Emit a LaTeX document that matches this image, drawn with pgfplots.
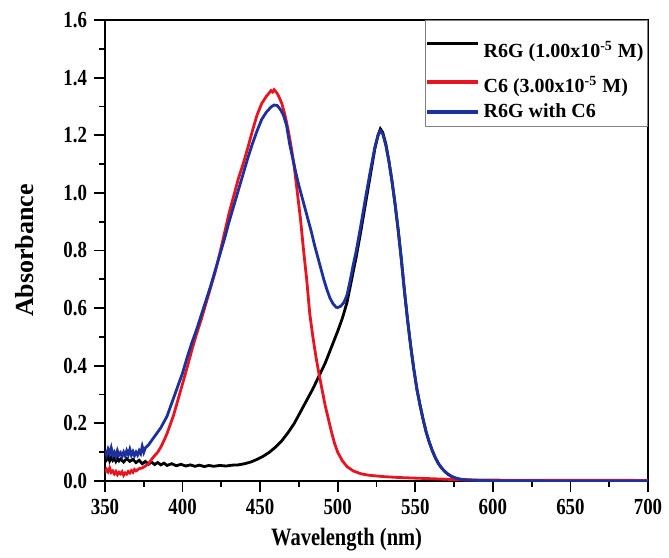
\documentclass[border=0pt]{standalone}
\usepackage{fontspec}
\setmainfont{Liberation Serif}
\newfontfamily\condfont{Liberation Serif}[FakeStretch=0.82]
\usepackage{graphicx}
\usepackage{pgfplots}
\pgfplotsset{compat=1.18}
\definecolor{cred}{RGB}{232,20,32}
\definecolor{cblue}{RGB}{28,48,158}
\pgfplotsset{lastrowimg/.style={legend image code/.code={\path[draw=none,fill=none] (0pt,-4.5pt) rectangle (25.5pt,0.5pt); \draw[##1, line width=1.7pt] (0pt,0pt) -- (25.5pt,0pt);}}}
\begin{document}
\begin{tikzpicture}
\begin{axis}[
  scale only axis, width=271.5pt, height=230.5pt,
  xmin=350, xmax=700, ymin=0, ymax=1.6,
  xtick={350,400,450,500,550,600,650,700},
  ytick={0,0.2,0.4,0.6,0.8,1.0,1.2,1.4,1.6},
  minor x tick num=1, minor y tick num=1,
  tick align=outside, xtick pos=left, ytick pos=left,
  major tick length=5.5pt, minor tick length=3pt,
  every tick/.style={black, line width=0.9pt},
  axis line style={line width=1.3pt},
  /pgf/number format/assume math mode=true,
  y tick label style={/pgf/number format/.cd, fixed, fixed zerofill, precision=1},
  x tick label style={/pgf/number format/.cd, fixed, precision=0},
  ticklabel style={font=\condfont\bfseries\fontsize{11.5}{13}\selectfont},
  xlabel={\condfont\bfseries\fontsize{12.5}{14}\selectfont Wavelength (nm)},
  ylabel={\bfseries\fontsize{13}{15}\selectfont Absorbance},
  xlabel style={at={(axis description cs:0.445,0)}, anchor=center, yshift=-29.5pt},
  ylabel style={at={(axis description cs:-0.1473,0.5)}, anchor=center},
  legend style={at={(1,1)}, anchor=north east, draw=gray, line width=0.5pt,
    font=\bfseries\fontsize{10}{11}\selectfont, inner xsep=0pt, inner ysep=1pt,
    row sep=0pt, column sep=0pt, cells={anchor=west, inner sep=0pt}},
  legend image code/.code={\draw[#1, line width=1.7pt] (0pt,0pt) -- (25.5pt,0pt);},
  every axis plot/.append style={line width=1.4pt},
]
% R6G
\addplot[black] coordinates {
(350,0.085)(351,0.075)(352,0.088)(353,0.070)(354,0.082)(355,0.072)(356,0.080)(357,0.068)(358,0.078)(359,0.070)
(360,0.076)(362,0.066)(364,0.078)(366,0.068)(368,0.075)(370,0.064)(372,0.072)(374,0.060)(376,0.068)(378,0.058)
(380,0.066)(382,0.057)(384,0.064)(386,0.056)(388,0.062)(390,0.054)(393,0.060)(396,0.053)(399,0.058)(402,0.052)
(405,0.056)(408,0.051)(411,0.055)(414,0.050)(417,0.054)(420,0.051)(424,0.054)(428,0.052)(432,0.055)(436,0.056)
(440,0.060)(444,0.066)(448,0.075)(452,0.086)(456,0.100)(460,0.118)(464,0.140)(468,0.168)(472,0.200)(476,0.240)
(480,0.280)(484,0.320)(488,0.365)(492,0.410)(496,0.465)(500,0.520)(503,0.565)(506,0.620)(509,0.700)(512,0.780)
(515,0.870)(518,0.965)(521,1.060)(524,1.155)(526,1.200)(527.5,1.222)(529,1.210)(531,1.170)(533,1.110)(535,1.040)
(537,0.960)(539,0.870)(541,0.770)(543,0.660)(545,0.560)(547,0.470)(549,0.390)(551,0.320)(553,0.265)(555,0.215)
(557,0.170)(559,0.135)(561,0.105)(563,0.080)(565,0.060)(567,0.045)(569,0.033)(571,0.024)(573,0.017)(575,0.012)
(578,0.007)(582,0.004)(590,0.002)(600,0.001)(650,0.000)(700,0.000)
};
\addlegendentry{\rule[-9.5pt]{0pt}{25pt}R6G (1.00x10\textsuperscript{-5} M)}
% C6
\addplot[cred] coordinates {
(350,0.030)(351,0.040)(352,0.032)(353,0.045)(354,0.030)(355,0.035)(356,0.025)(357,0.033)(358,0.022)(359,0.030)
(360,0.025)(361,0.032)(362,0.020)(363,0.028)(364,0.024)(365,0.033)(366,0.028)(367,0.036)(368,0.030)(369,0.040)
(370,0.035)(372,0.043)(374,0.045)(376,0.052)(378,0.060)(380,0.075)(382,0.088)(384,0.100)(386,0.118)(388,0.140)
(390,0.165)(392,0.195)(394,0.225)(396,0.262)(398,0.300)(400,0.338)(403,0.395)(406,0.455)(409,0.510)(412,0.560)
(415,0.615)(418,0.670)(421,0.725)(424,0.790)(427,0.860)(430,0.930)(433,0.990)(436,1.050)(439,1.100)(442,1.155)
(445,1.215)(448,1.270)(451,1.310)(454,1.335)(456,1.348)(457,1.355)(458,1.350)(459,1.358)(460,1.352)(461,1.345)
(462,1.335)(464,1.310)(466,1.270)(468,1.220)(470,1.160)(472,1.090)(474,1.000)(476,0.910)(478,0.800)(480,0.700)
(482,0.580)(484,0.500)(486,0.430)(488,0.370)(490,0.315)(492,0.260)(494,0.215)(496,0.170)(498,0.130)(500,0.100)
(503,0.070)(506,0.050)(510,0.035)(515,0.025)(520,0.020)(530,0.015)(540,0.012)(550,0.010)(560,0.008)(570,0.006)
(580,0.004)(600,0.003)(700,0.002)
};
\addlegendentry{\rule[-4.5pt]{0pt}{16.5pt}C6 (3.00x10\textsuperscript{-5} M)}
% R6G with C6
\addplot[cblue, lastrowimg] coordinates {
(350,0.105)(351,0.090)(352,0.110)(353,0.095)(354,0.115)(355,0.090)(356,0.100)(357,0.085)(358,0.105)(359,0.090)
(360,0.098)(361,0.085)(362,0.100)(363,0.088)(364,0.105)(365,0.092)(366,0.110)(367,0.090)(368,0.102)(369,0.088)
(370,0.100)(371,0.090)(372,0.105)(373,0.095)(374,0.120)(375,0.100)(376,0.115)(378,0.125)(380,0.140)(382,0.155)
(384,0.170)(386,0.185)(388,0.205)(390,0.225)(392,0.255)(394,0.285)(396,0.315)(398,0.345)(400,0.375)(403,0.430)
(406,0.480)(409,0.525)(412,0.575)(415,0.625)(418,0.675)(421,0.730)(424,0.785)(427,0.840)(430,0.900)(433,0.955)
(436,1.010)(439,1.065)(442,1.120)(445,1.170)(448,1.215)(451,1.255)(454,1.280)(457,1.298)(459,1.305)(461,1.303)
(463,1.290)(465,1.270)(467,1.235)(469,1.170)(471,1.120)(473,1.070)(475,1.025)(477,0.985)(479,0.945)(481,0.905)
(483,0.865)(485,0.820)(487,0.780)(489,0.740)(491,0.700)(493,0.665)(495,0.635)(497,0.615)(499,0.603)(500,0.602)
(502,0.607)(504,0.620)(506,0.645)(508,0.695)(510,0.750)(512,0.800)(515,0.890)(518,0.985)(521,1.075)(524,1.160)
(526,1.200)(527.5,1.215)(529,1.205)(531,1.165)(533,1.110)(535,1.040)(537,0.960)(539,0.870)(541,0.770)(543,0.660)
(545,0.560)(547,0.470)(549,0.390)(551,0.320)(553,0.265)(555,0.215)(557,0.170)(559,0.135)(561,0.105)(563,0.080)
(565,0.060)(567,0.045)(569,0.033)(571,0.024)(573,0.017)(575,0.012)(578,0.007)(582,0.004)(590,0.002)(600,0.001)
(650,0.000)(700,0.000)
};
\addlegendentry{\rule[-5pt]{0pt}{12pt}R6G with C6}
\end{axis}
\pgfresetboundingbox
\path[use as bounding box] (current axis.south west) ++(-52.5pt,-38pt) rectangle ++(334.5pt,278.5pt);
\end{tikzpicture}
\end{document}
